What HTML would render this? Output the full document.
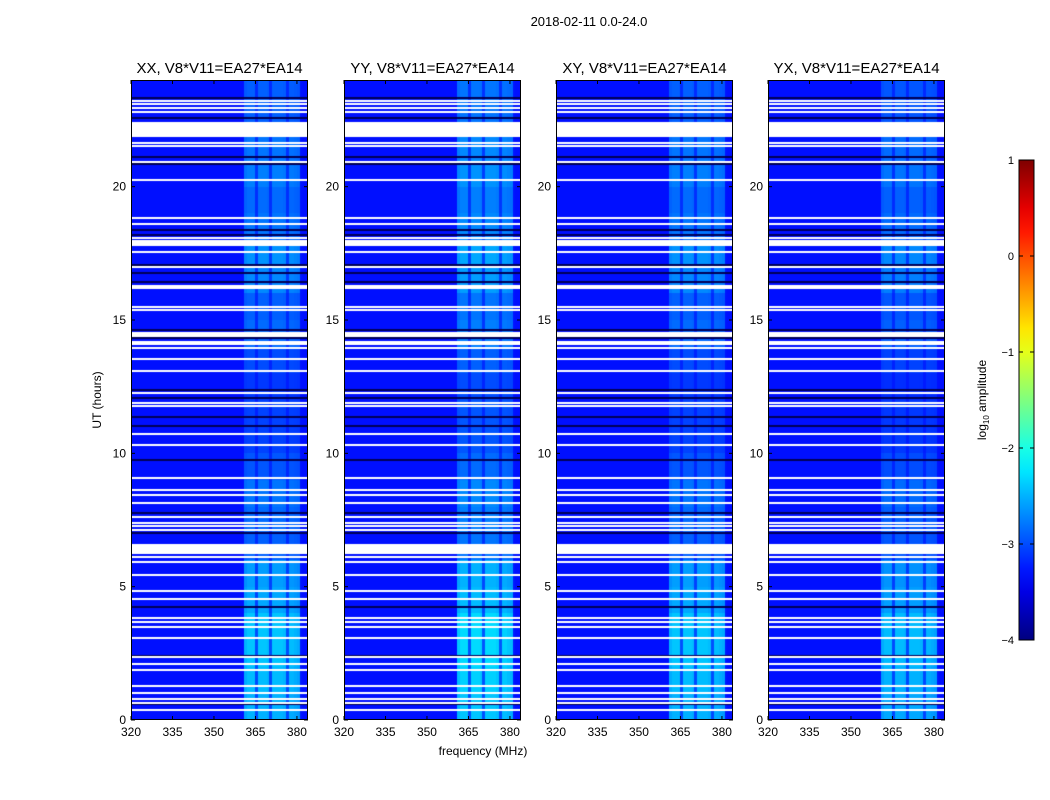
<!DOCTYPE html>
<html><head><meta charset="utf-8">
<style>
body{margin:0;background:#fff;}
#wrap{position:relative;width:1050px;height:800px;font-family:"Liberation Sans",sans-serif;}
</style></head>
<body>
<div id="wrap">
<svg id="svg" width="1050" height="800" style="position:absolute;left:0;top:0"></svg>
</div>
<script>
// ---- data ----
const panelTitles = ["XX, V8*V11=EA27*EA14","YY, V8*V11=EA27*EA14","XY, V8*V11=EA27*EA14","YX, V8*V11=EA27*EA14"];
const panelBandOffset = [0, 0.1, 0, -0.05];
const freqMin = 320, freqMax = 384, timeMin = 0, timeMax = 24;
const xTicks = [320,335,350,365,380];
const yTicks = [0,5,10,15,20];
const cbTicks = [1,0,-1,-2,-3,-4];
const background = -3.3;
// per-MHz channel band profile, 320..383
const chanProfile = [0,0,0,0,0,0,0,0,0,0, 0,0,0,0,0,0,0,0,0,0, 0,0,0,0,0,0,0,0,0,0,
 0,0,0,0,0,0,0,0,0,0, 0,0.9,1,1,1,0.35,1,1,1,0.95, 0.35,1,1,1,1,0.95,0.35,0.95,0.95,0.9, 0.85,0.05,0,0];
// band level (log10 amp) per hour 0..23
const bandLevel = [-2.5,-2.45,-2.4,-2.4,-2.55,-2.6,-2.9,-2.85,-2.8,-2.95,-3.05,-3.05,-3.1,-3.0,-2.85,-2.9,-2.7,-2.65,-2.8,-2.85,-2.75,-2.8,-2.9,-2.9];
// flagged (white) time ranges [start,end] hours
const whiteFlags = [[23.18,23.24],[23.07,23.13],[22.92,22.98],[22.77,22.83],[21.86,22.43],[21.61,21.67],[21.49,21.55],[20.9,20.96],[20.22,20.28],
[18.8,18.86],[18.57,18.63],[18.05,18.11],[17.93,17.99],[17.86,17.92],[17.78,17.84],[17.52,17.58],[16.96,17.02],[16.25,16.31],[16.17,16.23],
[15.46,15.52],[15.35,15.41],[14.36,14.55],[14.15,14.21],[14.07,14.13],[13.92,13.98],[13.51,13.57],[13.06,13.12],[12.23,12.29],[11.86,11.92],
[11.75,11.81],[10.7,10.76],[10.28,10.34],[9.05,9.11],[8.6,8.66],[8.41,8.47],[8.11,8.17],[7.58,7.64],[7.36,7.42],[7.25,7.31],[7.1,7.16],
[6.22,6.6],[6.08,6.14],[5.9,5.96],[5.41,5.47],[4.81,4.87],[4.51,4.57],[3.8,3.86],[3.65,3.71],[3.46,3.52],[3.05,3.11],[2.33,2.39],[2.07,2.13],
[1.85,1.91],[1.25,1.31],[0.98,1.04],[0.76,0.82],[0.61,0.67],[0.35,0.41]];
// dark (near-zero) time rows
const darkFlags = [23.33,22.58,21.11,20.85,18.38,18.19,17.06,16.76,16.43,14.63,14.33,12.38,12.08,11.36,11.03,9.75,7.76,7.01,4.24,2.4,0.6];

// ---- layout ----
const panelLeft = [131,344,556,768], pw = 177, plotTop = 80, ph = 640;
const svg = document.getElementById('svg');
const NS = 'http://www.w3.org/2000/svg';
function mk(tag, attrs, parent){const e=document.createElementNS(NS,tag);for(const k in attrs)e.setAttribute(k,attrs[k]);(parent||svg).appendChild(e);return e;}
function xScale(i,f){return panelLeft[i]+(f-freqMin)/(freqMax-freqMin)*pw;}
function yScale(t){return plotTop+ph-(t-timeMin)/(timeMax-timeMin)*ph;}
function jet(v){
  const c=x=>Math.max(0,Math.min(1,x));
  const r=c(Math.min(4*v-1.5,-4*v+4.5)),g=c(Math.min(4*v-0.5,-4*v+3.5)),b=c(Math.min(4*v+0.5,-4*v+2.5));
  return [r*255|0,g*255|0,b*255|0];
}
function norm(v){return (v+4)/5;}

const wrap=document.getElementById('wrap');
for(let i=0;i<4;i++){
  const cv=document.createElement('canvas');
  cv.width=pw;cv.height=ph;
  cv.style.cssText=`position:absolute;left:${panelLeft[i]}px;top:${plotTop}px;`;
  
  
  wrap.insertBefore(cv,svg);
  const ctx=cv.getContext('2d');const img=ctx.createImageData(pw,ph);
  for(let y=0;y<ph;y++){
    const t=timeMax-(y+0.5)/ph*(timeMax-timeMin);
    const isWhite=whiteFlags.some(w=>t>=w[0]&&t<=w[1]);
    const isDark=darkFlags.some(d=>Math.abs(t-d)<0.035);
    const bl=bandLevel[Math.min(23,Math.floor(t))]+panelBandOffset[i];
    for(let x=0;x<pw;x++){
      const f=freqMin+(x+0.5)/pw*(freqMax-freqMin);
      const p=chanProfile[Math.min(chanProfile.length-1,Math.floor(f-freqMin))];
      let col;
      if(isWhite) col=[255,255,255];
      else if(isDark) col=jet(norm(-4.2));
      else col=jet(norm(background+p*(bl-background)));
      const k=(y*pw+x)*4;img.data[k]=col[0];img.data[k+1]=col[1];img.data[k+2]=col[2];img.data[k+3]=255;
    }
  }
  ctx.putImageData(img,0,0);
  const fr=mk('rect',{x:panelLeft[i]+0.5,y:plotTop+0.5,width:pw-1,height:ph-1,fill:'none',stroke:'#000','stroke-width':1});
  
  
  const tt=mk('text',{x:panelLeft[i]+pw/2,y:73,'text-anchor':'middle','font-size':15});
  tt.textContent=panelTitles[i];
  
  
  xTicks.forEach(v=>{
    const x=xScale(i,v);
    mk('line',{x1:x,x2:x,y1:plotTop+ph,y2:plotTop+ph-4,stroke:'#000'});
    mk('line',{x1:x,x2:x,y1:plotTop,y2:plotTop+4,stroke:'#000'});
    const l=mk('text',{x:x,y:plotTop+ph+16,'text-anchor':'middle','font-size':12});
    l.textContent=v;
    
    
  });
  yTicks.forEach(v=>{
    const y=yScale(v);
    mk('line',{x1:panelLeft[i],x2:panelLeft[i]+4,y1:y,y2:y,stroke:'#000'});
    mk('line',{x1:panelLeft[i]+pw,x2:panelLeft[i]+pw-4,y1:y,y2:y,stroke:'#000'});
    const l=mk('text',{x:panelLeft[i]-5,y:y+4,'text-anchor':'end','font-size':12});
    l.textContent=v;
    
    
  });
}
let t=mk('text',{x:589,y:26,'text-anchor':'middle','font-size':13});t.textContent='2018-02-11 0.0-24.0';


t=mk('text',{x:483,y:755,'text-anchor':'middle','font-size':12});t.textContent='frequency (MHz)';


t=mk('text',{x:0,y:0,'text-anchor':'middle','font-size':12,transform:'translate(101,400) rotate(-90)'});t.textContent='UT (hours)';



const cbX=1019,cbW=15,cbTop=160,cbH=480;
const grad=mk('linearGradient',{id:'jetg',x1:0,y1:1,x2:0,y2:0},mk('defs',{}));
for(let s=0;s<=20;s++){const c=jet(s/20);mk('stop',{offset:s/20,'stop-color':`rgb(${c})`},grad);}
const cb=mk('rect',{x:cbX,y:cbTop,width:cbW,height:cbH,fill:'url(#jetg)',stroke:'#000'});


cbTicks.forEach(v=>{
  const y=cbTop+cbH-(v+4)/5*cbH;
  mk('line',{x1:cbX,x2:cbX+4,y1:y,y2:y,stroke:'#000'});
  mk('line',{x1:cbX+cbW,x2:cbX+cbW-4,y1:y,y2:y,stroke:'#000'});
  const l=mk('text',{x:cbX-5,y:y+4,'text-anchor':'end','font-size':11});
  l.textContent=v<0?'\u2212'+(-v):v;
  
  
});
t=mk('text',{x:0,y:0,'text-anchor':'middle','font-size':12,transform:'translate(986,400) rotate(-90)'});
t.innerHTML='log<tspan font-size="8" dy="3">10</tspan><tspan dy="-3"> amplitude</tspan>';


</script>
</body></html>
